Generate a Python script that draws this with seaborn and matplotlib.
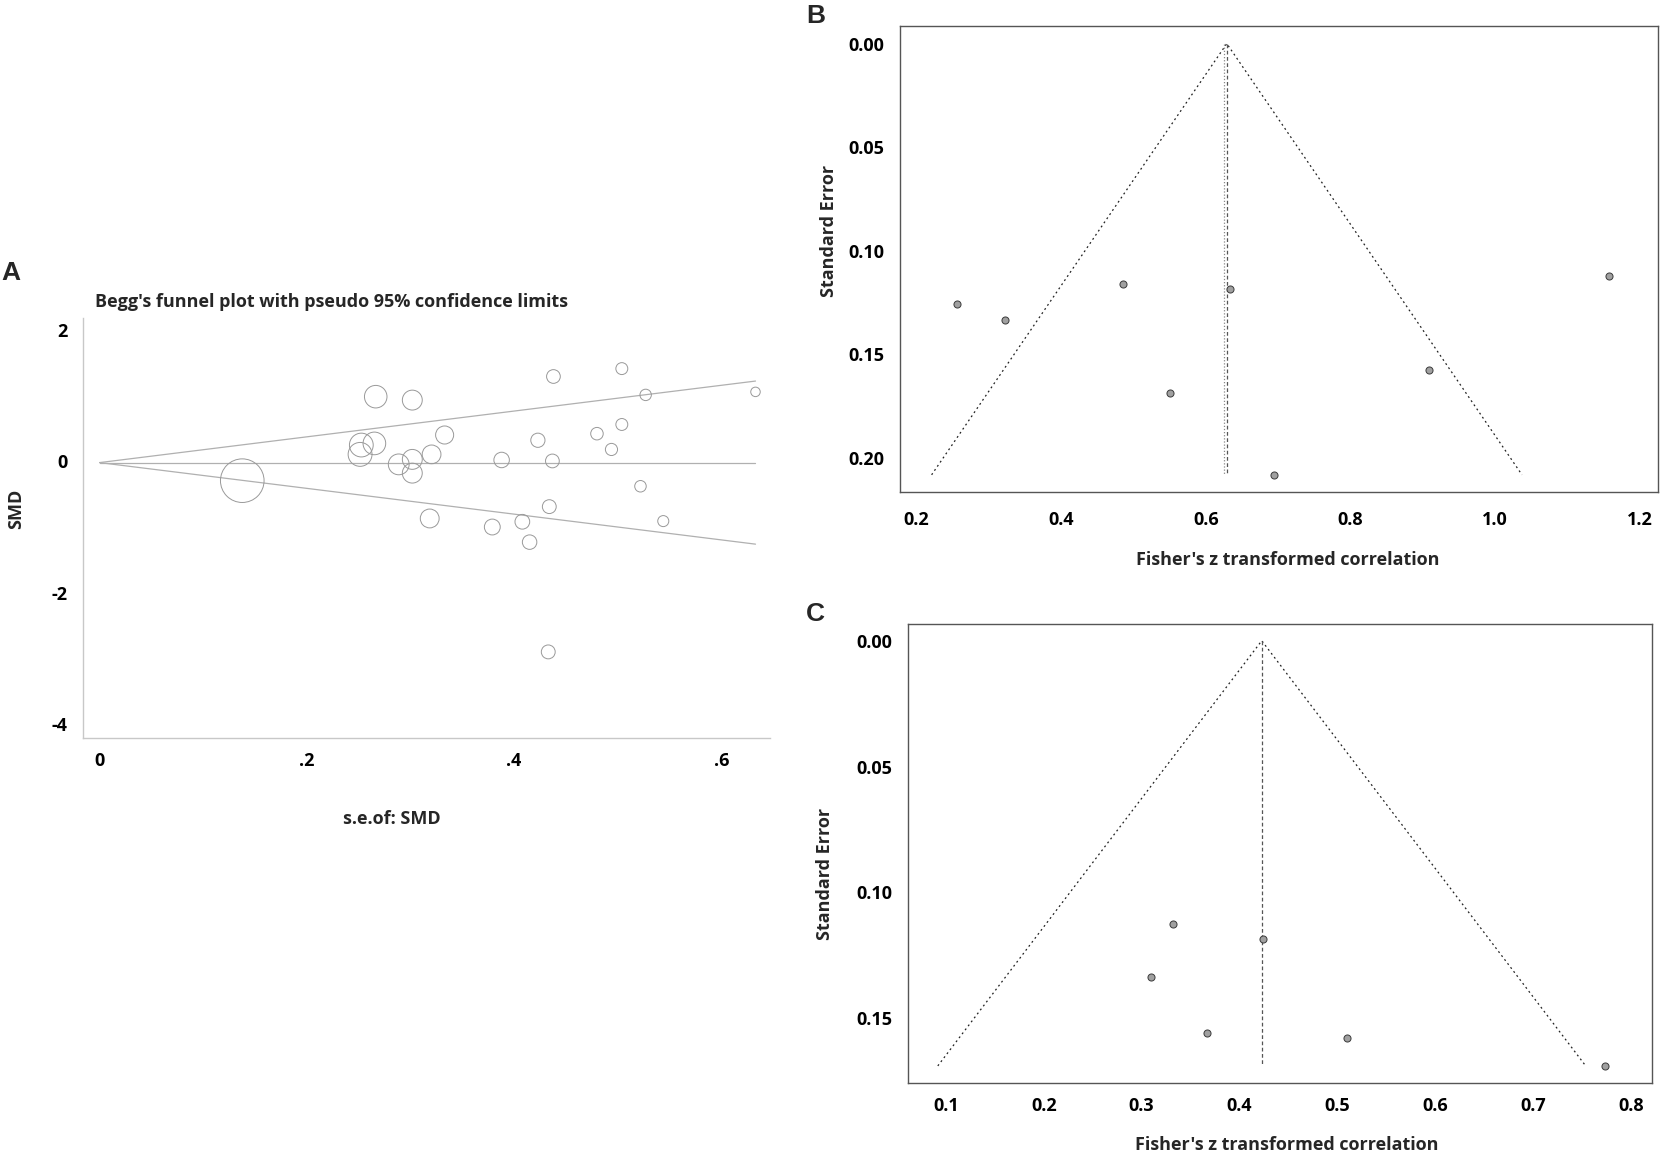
import matplotlib
matplotlib.use("Agg")
import matplotlib.pyplot as plt
import numpy as np
import pandas as pd
import seaborn as sns

# ---------------- data ----------------
# Panel A: Begg's funnel plot (SMD vs its standard error)
a_se = [0.1377, 0.2665, 0.3018, 0.2526, 0.2514, 0.2652, 0.2887, 0.3018, 0.3018,
        0.3204, 0.3330, 0.3186, 0.379, 0.388, 0.408, 0.415, 0.423, 0.434, 0.437,
        0.438, 0.433, 0.480, 0.494, 0.504, 0.504, 0.522, 0.527, 0.544, 0.633]
a_smd = [-0.295, 0.983, 0.931, 0.247, 0.105, 0.272, -0.047, 0.029, -0.18,
         0.105, 0.40, -0.87, -1.0, 0.02, -0.92, -1.23, 0.32, -0.69, 0.005,
         1.29, -2.90, 0.42, 0.18, 0.56, 1.41, -0.38, 1.01, -0.91, 1.056]
a_pooled = -0.02
a_ticks_x = [0, 0.2, 0.4, 0.6]
a_ticklabels_x = ["0", ".2", ".4", ".6"]
a_ticks_y = [-4, -2, 0, 2]
a_ticklabels_y = ["-4", "-2", "0", "2"]

# Panel B: Fisher's z vs standard error
b_z = [0.2564, 0.3216, 0.4854, 0.634, 0.5498, 0.6936, 0.9083, 1.1579]
b_se = [0.1257, 0.1335, 0.1161, 0.1184, 0.1689, 0.2083, 0.1579, 0.1124]
b_fixed = 0.629
b_random = 0.6245
b_ticks_x = [0.2, 0.4, 0.6, 0.8, 1.0, 1.2]
b_ticks_y = [0.00, 0.05, 0.10, 0.15, 0.20]

# Panel C
c_z = [0.3316, 0.4239, 0.3099, 0.3669, 0.5098, 0.7731]
c_se = [0.1125, 0.1185, 0.1335, 0.156, 0.158, 0.1689]
c_center = 0.4227
c_ticks_x = [0.1, 0.2, 0.3, 0.4, 0.5, 0.6, 0.7, 0.8]
c_ticks_y = [0.00, 0.05, 0.10, 0.15]

Z95 = 1.96

# ---------------- style ----------------
sns.set_style("white")
plt.rcParams['font.family'] = ['Open Sans', 'DejaVu Sans']
plt.rcParams['font.weight'] = 'bold'

W, H = 1662, 1155
DPI = 100
fig = plt.figure(figsize=(W / DPI, H / DPI), dpi=DPI)
fig.patch.set_facecolor("white")

LAB = 13
TICK = 13


def px_axes(left, top, right, bottom):
    return fig.add_axes([left / W, 1 - bottom / H, (right - left) / W, (bottom - top) / H])


# ---------------- Panel A ----------------
axA = px_axes(83, 318, 770, 738)
dfA = pd.DataFrame({"se": a_se, "smd": a_smd})
dfA["w"] = 1.0 / dfA["se"] ** 2
wmin, wmax = dfA["w"].min(), dfA["w"].max()
k = 18.7
sns.scatterplot(data=dfA, x="se", y="smd", size="w", sizes=(k * wmin, k * wmax),
                size_norm=(wmin, wmax), legend=False, marker="o", ax=axA,
                color="#999999", linewidth=0.7, zorder=3)
coll = axA.collections[-1]
coll.set_facecolor("none")
coll.set_edgecolor("#999999")
coll.set_linewidth(0.7)

se_max = max(a_se)
line_x = [0, se_max]
line_kw = dict(color="#b0b0b0", lw=0.9, zorder=2)
axA.plot(line_x, [a_pooled, a_pooled], **line_kw)
axA.plot(line_x, [a_pooled, a_pooled + Z95 * se_max], **line_kw)
axA.plot(line_x, [a_pooled, a_pooled - Z95 * se_max], **line_kw)

axA.set_xlim(-0.016, 0.647)
axA.set_ylim(-4.21, 2.18)
axA.set_xticks(a_ticks_x)
axA.set_xticklabels(a_ticklabels_x)
axA.set_yticks(a_ticks_y)
axA.set_yticklabels(a_ticklabels_y)
for s in ["top", "right"]:
    axA.spines[s].set_visible(False)
for s in ["left", "bottom"]:
    axA.spines[s].set_color("#c8c8c8")
    axA.spines[s].set_linewidth(1.0)
axA.tick_params(axis="both", direction="out", length=6, width=0.9, color="#c8c8c8",
                labelsize=TICK, labelcolor="black")
axA.tick_params(axis="y", pad=5)
axA.tick_params(axis="x", pad=4)
for lab in axA.get_xticklabels() + axA.get_yticklabels():
    lab.set_fontweight("bold")
axA.set_xlabel("")
axA.set_ylabel("")
fig.text(95 / W, 1 - 302 / H, "Begg's funnel plot with pseudo 95% confidence limits",
         ha="left", va="center", fontsize=LAB, fontweight="bold")
fig.text(392 / W, 1 - 819 / H, "s.e.of: SMD", ha="center", va="center",
         fontsize=LAB, fontweight="bold")
fig.text(16 / W, 1 - 509 / H, "SMD", ha="center", va="center", rotation=90,
         fontsize=LAB, fontweight="bold")


# ---------------- Panels B & C ----------------
def funnel_panel(ax, z, se, center, ticks_x, ticks_y, xlim, ylim, extra_center=None, xpad=8):
    df = pd.DataFrame({"z": z, "se": se})
    smax = max(se)
    ax.plot([center - Z95 * smax, center, center + Z95 * smax], [smax, 0, smax],
            color="#222222", lw=0.9, ls=(0, (1.5, 2.5)), zorder=2)
    ax.plot([center, center], [0, smax], color="#555555", lw=0.9, ls=(0, (3, 2)), zorder=2)
    if extra_center is not None:
        ax.plot([extra_center, extra_center], [0, smax * 0.997], color="#888888", lw=0.9,
                ls=(0, (1, 1.5)), zorder=2)
    sns.scatterplot(data=df, x="z", y="se", ax=ax, s=26, color="#a0a0a0",
                    edgecolor="#3a3a3a", linewidth=0.7, legend=False, zorder=3)
    ax.set_xlim(*xlim)
    ax.set_ylim(*ylim)
    ax.set_xticks(ticks_x)
    ax.set_xticklabels([f"{t:.1f}" for t in ticks_x])
    ax.set_yticks(ticks_y)
    ax.set_yticklabels([f"{t:.2f}" for t in ticks_y])
    for s in ax.spines.values():
        s.set_color("#555555")
        s.set_linewidth(1.0)
        s.set_visible(True)
    ax.tick_params(axis="both", direction="out", length=6, width=0.9, color="#777777",
                   labelsize=TICK, labelcolor="black")
    ax.tick_params(axis="y", pad=5)
    ax.tick_params(axis="x", pad=xpad)
    for lab in ax.get_xticklabels() + ax.get_yticklabels():
        lab.set_fontweight("bold")
    ax.set_xlabel("")
    ax.set_ylabel("")


axB = px_axes(900, 26, 1658, 492)
funnel_panel(axB, b_z, b_se, b_fixed, b_ticks_x, b_ticks_y,
             (0.177, 1.2254), (0.2166, -0.0085), extra_center=b_random, xpad=8)
axC = px_axes(908, 624, 1652, 1083)
funnel_panel(axC, c_z, c_se, c_center, c_ticks_x, c_ticks_y,
             (0.0612, 0.8215), (0.1757, -0.00665), xpad=4)

fig.text(1288 / W, 1 - 560 / H, "Fisher's z transformed correlation", ha="center",
         va="center", fontsize=LAB, fontweight="bold")
fig.text(829 / W, 1 - 231 / H, "Standard Error", ha="center", va="center",
         rotation=90, fontsize=LAB, fontweight="bold")
fig.text(1287 / W, 1 - 1145 / H, "Fisher's z transformed correlation", ha="center",
         va="center", fontsize=LAB, fontweight="bold")
fig.text(825 / W, 1 - 874 / H, "Standard Error", ha="center", va="center",
         rotation=90, fontsize=LAB, fontweight="bold")

# panel letters
for x, y, t in [(1, 261, "A"), (806, 4, "B"), (806, 602, "C")]:
    fig.text(x / W, 1 - y / H, t, ha="left", va="top", fontsize=19, fontweight="bold",
             family=["Liberation Sans", "DejaVu Sans"])

fig.savefig("out.png", dpi=DPI)
